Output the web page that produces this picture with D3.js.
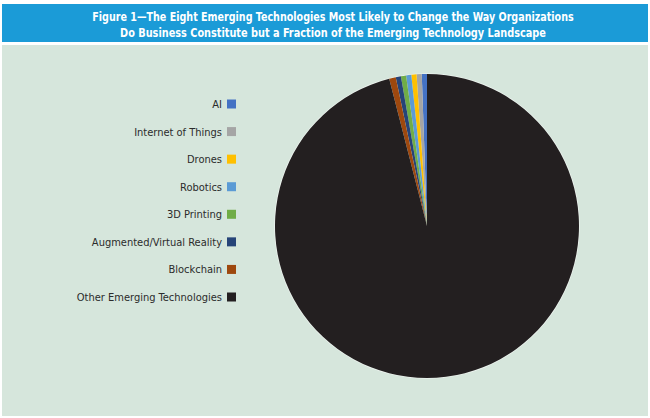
<!DOCTYPE html>
<html><head><meta charset="utf-8">
<script src="https://cdn.jsdelivr.net/npm/d3@7"></script>
<style>
html,body{margin:0;padding:0;background:#fff;}
svg{display:block;}
</style></head>
<body>
<svg id="chart" width="650" height="418"></svg>
<script>
const titleLines = [
  "Figure 1\u2014The Eight Emerging Technologies Most Likely to Change the Way Organizations",
  "Do Business Constitute but a Fraction of the Emerging Technology Landscape"
];
const categories = ["AI","Internet of Things","Drones","Robotics","3D Printing","Augmented/Virtual Reality","Blockchain","Other Emerging Technologies"];
const values = [0.55, 0.55, 0.55, 0.55, 0.55, 0.55, 0.7, 96.0];
const colors = ["#4472c4","#a5a5a5","#ffc000","#5b9bd5","#70ad47","#264478","#9e480e","#231f20"];

const svg = d3.select("#chart");
const font = "'DejaVu Sans Condensed','Liberation Sans Narrow',sans-serif";

// title bar and panel
svg.append("rect").attr("x",2).attr("y",4).attr("width",646).attr("height",38).attr("fill","#1b9bd7");
svg.append("rect").attr("x",2).attr("y",45).attr("width",646).attr("height",371).attr("fill","#d6e6dc");

const titleWidths = [482, 426];
svg.selectAll("g.title").data(titleLines).join("g")
  .attr("class","title")
  .each(function(d,i){
    const gg = d3.select(this);
    const t = gg.append("text")
      .attr("x",0).attr("y",0)
      .attr("text-anchor","middle")
      .attr("fill","#ffffff")
      .attr("font-family",font)
      .attr("font-weight","bold")
      .attr("font-size","12.5px")
      .text(d);
    const w = t.node().getComputedTextLength();
    const sx = Math.min(1, titleWidths[i]/w);
    gg.attr("transform",`translate(333,${21+i*15.5}) scale(${sx},1)`);
  });

// pie
const data = categories.map((c,i)=>({name:c, value:values[i], color:colors[i]}));
const pie = d3.pie().sort(null).value(d=>d.value).startAngle(0).endAngle(-2*Math.PI);
const cx = 427, cy = 226, r = 152;
const arc = d3.arc().innerRadius(0).outerRadius(r);
const g = svg.append("g").attr("transform",`translate(${cx},${cy})`);
g.append("circle").attr("r",r+0.8).attr("fill","#eef4f0");
g.selectAll("path").data(pie(data)).join("path")
  .attr("d",arc)
  .attr("fill",d=>d.data.color);

// legend
const y = d3.scalePoint().domain(categories).range([104, 297]);
const items = svg.append("g").selectAll("g").data(data).join("g")
  .attr("transform",d=>`translate(0,${y(d.name)})`);
items.append("rect").attr("x",227).attr("y",-4.5).attr("width",9).attr("height",9)
  .attr("fill",d=>d.color);
items.append("text").attr("x",222).attr("y",4)
  .attr("text-anchor","end")
  .attr("fill","#2b2b2b")
  .attr("font-family",font)
  .attr("font-size","11px")
  .text(d=>d.name);
</script>
</body></html>
